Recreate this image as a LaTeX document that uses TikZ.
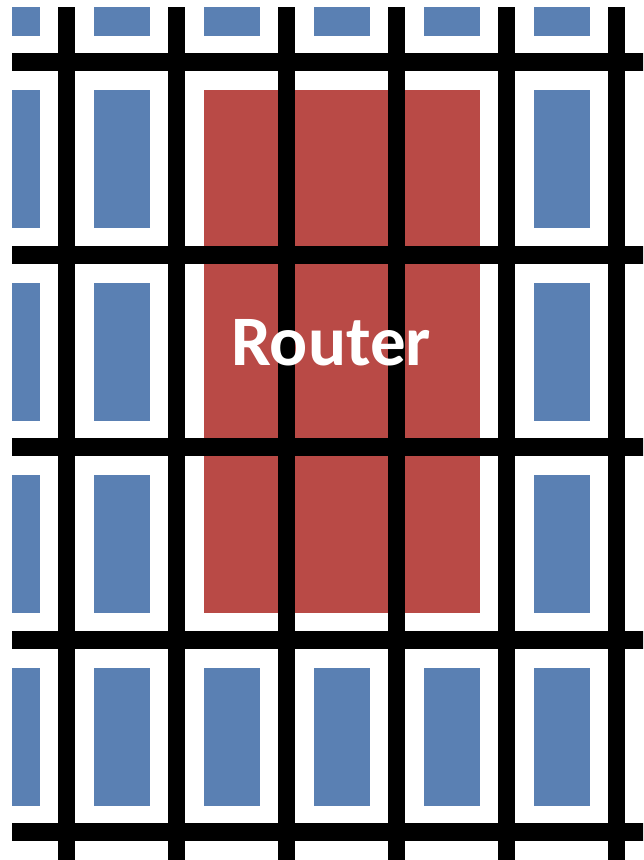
\documentclass[tikz,border=0pt]{standalone}
\usepackage{fontspec}
\setmainfont{Carlito}
\definecolor{cellblue}{HTML}{5A80B3}
\definecolor{routerred}{HTML}{B94A46}
\tikzset{
  cell/.style={fill=cellblue},
  wire/.style={fill=black},
  label/.style={text=white, font=\bfseries\fontsize{71}{71}\selectfont, inner sep=0pt, anchor=base}
}
\begin{document}
\begin{tikzpicture}[x=1pt,y=-1pt]
\useasboundingbox (0,0) rectangle (643,860);
\begin{scope}
\clip (12,7) rectangle (643,860);
\foreach \c in {-16,94,204,314,424,534}
  \foreach \r in {-102.5,90,282.5,475,667.5}
    \path[cell] (\c,\r) rectangle +(56,138);
\path[fill=routerred] (204,90) rectangle (480,613);
\foreach \x in {58,168,278,388,498,608}
  \path[wire] (\x,7) rectangle +(17,860);
\foreach \y in {53,245.5,438,630.5,823}
  \path[wire] (12,\y) rectangle +(640,18);
\end{scope}
\node[label] (router) at (331,365) {Router};
\end{tikzpicture}
\end{document}
